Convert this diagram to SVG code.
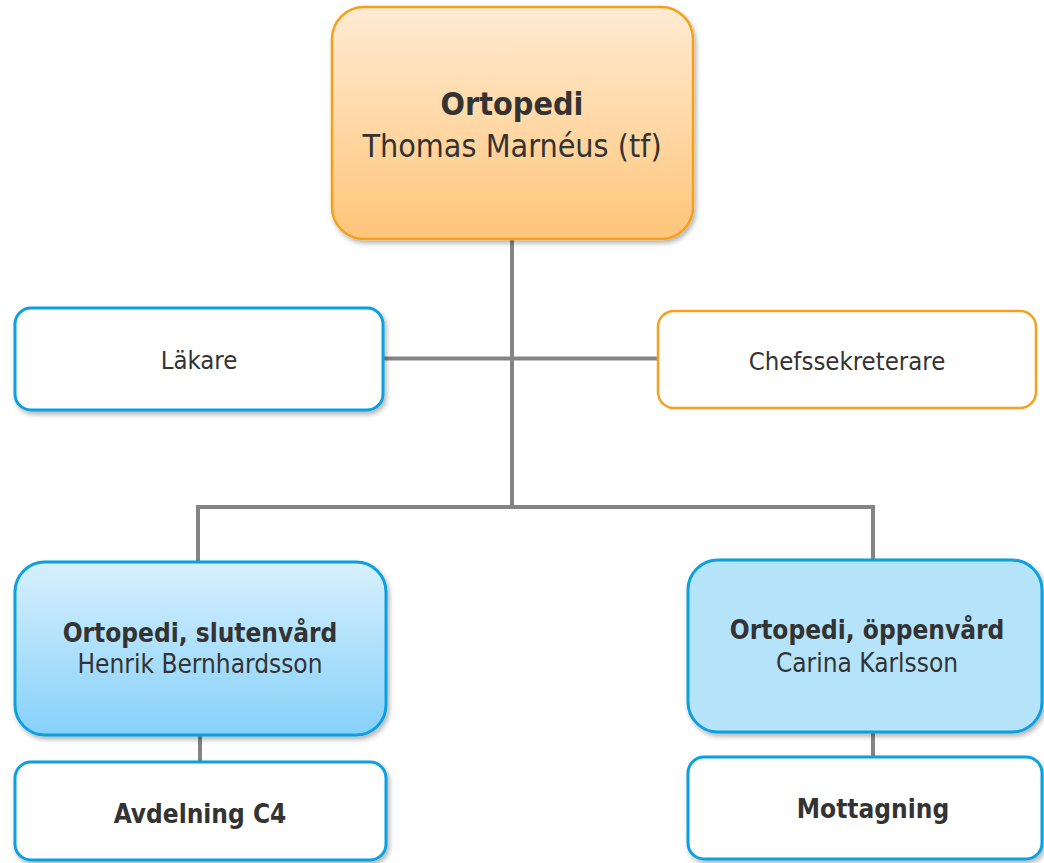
<svg xmlns="http://www.w3.org/2000/svg" width="1044" height="863" viewBox="0 0 1044 863">
<style>
.t{font-family:"DejaVu Sans Condensed","DejaVu Sans",sans-serif;fill:#333333;text-anchor:middle}
.b{font-weight:bold}
.conn{stroke:#848484;stroke-width:4;fill:none}
.blue{stroke:#0AA0E0;stroke-width:3}
.orange{stroke:#F5A01E;stroke-width:2.5}
</style>
<defs>
<linearGradient id="gOr" x1="0" y1="0" x2="0" y2="1">
<stop offset="0" stop-color="#FFEBD3"/>
<stop offset="1" stop-color="#FFC579"/>
</linearGradient>
<linearGradient id="gBl" x1="0" y1="0" x2="0" y2="1">
<stop offset="0" stop-color="#D7F0FD"/>
<stop offset="1" stop-color="#86D1FA"/>
</linearGradient>
<filter id="sh" x="-10%" y="-10%" width="120%" height="130%">
<feDropShadow dx="2" dy="3" stdDeviation="2.5" flood-color="#000" flood-opacity="0.3"/>
</filter>
</defs>
<rect width="1044" height="863" fill="#ffffff"/>
<g id="connectors">
<path class="conn" d="M512 239 V507"/>
<path class="conn" d="M383 358.5 H658"/>
<path class="conn" d="M198 563 V507 H873 V560"/>
<path class="conn" d="M200 735 V762"/>
<path class="conn" d="M873 732 V757"/>
</g>
<g id="ortopedi">
<rect x="332" y="7" width="361" height="232" rx="32" fill="url(#gOr)" class="orange" filter="url(#sh)"/>
<text class="t b" x="512" y="115" font-size="32">Ortopedi</text>
<text class="t" x="512" y="157" font-size="32">Thomas Marnéus (tf)</text>
</g>
<g id="lakare">
<rect x="15" y="308" width="368" height="102" rx="16" fill="#ffffff" class="blue" filter="url(#sh)"/>
<text class="t" x="199" y="369" font-size="25.5">Läkare</text>
</g>
<g id="chefssekreterare">
<rect x="658" y="311" width="378" height="97" rx="16" fill="#ffffff" class="orange"/>
<text class="t" x="847" y="370" font-size="25.5">Chefssekreterare</text>
</g>
<g id="slutenvard">
<rect x="15" y="562" width="371" height="173" rx="30" fill="url(#gBl)" class="blue" filter="url(#sh)"/>
<text class="t b" x="200" y="642" font-size="26">Ortopedi, slutenvård</text>
<text class="t" x="200" y="673" font-size="26">Henrik Bernhardsson</text>
</g>
<g id="oppenvard">
<rect x="688" y="560" width="354" height="172" rx="30" fill="#B5E3FA" class="blue" filter="url(#sh)"/>
<text class="t b" x="867" y="639" font-size="26">Ortopedi, öppenvård</text>
<text class="t" x="867" y="672" font-size="26">Carina Karlsson</text>
</g>
<g id="avdelning-c4">
<rect x="15" y="762" width="371" height="98" rx="16" fill="#ffffff" class="blue" filter="url(#sh)"/>
<text class="t b" x="200" y="823" font-size="26">Avdelning C4</text>
</g>
<g id="mottagning">
<rect x="688" y="757" width="354" height="102" rx="16" fill="#ffffff" class="blue" filter="url(#sh)"/>
<text class="t b" x="873" y="818" font-size="26">Mottagning</text>
</g>
</svg>
